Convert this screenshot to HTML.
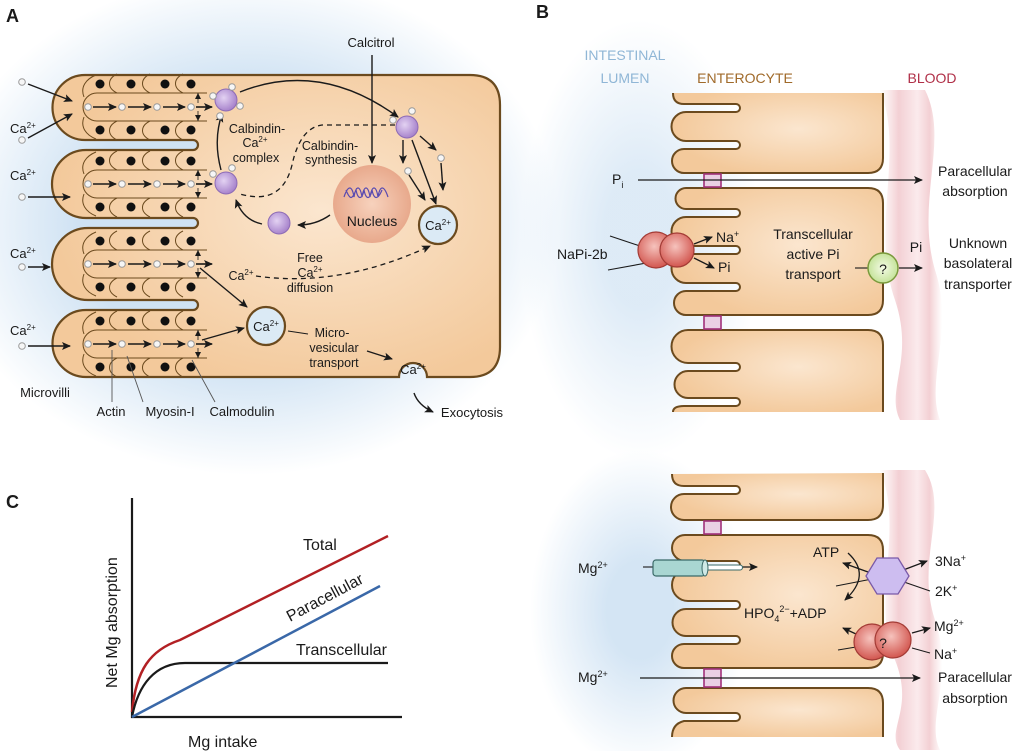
<!DOCTYPE html>
<html><head><meta charset="utf-8"><style>
html,body{margin:0;padding:0;background:#fff}
svg{display:block}
text{font-family:"Liberation Sans",Arial,sans-serif;fill:#1a1a1a}
</style></head><body>
<svg width="1024" height="751" viewBox="0 0 1024 751" xmlns="http://www.w3.org/2000/svg">
<defs>
<radialGradient id="bgA" cx="0.5" cy="0.5" r="0.5"><stop offset="0.55" stop-color="#cfe2f3"/><stop offset="1" stop-color="#cfe2f3" stop-opacity="0"/></radialGradient>
<radialGradient id="bgL" cx="0.5" cy="0.5" r="0.5"><stop offset="0.3" stop-color="#cfe2f3"/><stop offset="1" stop-color="#cfe2f3" stop-opacity="0"/></radialGradient>
<radialGradient id="cell" cx="0.6" cy="0.45" r="0.6"><stop offset="0" stop-color="#fbe6cf"/><stop offset="1" stop-color="#f3c99b"/></radialGradient>
<linearGradient id="blood" x1="0" x2="1" y1="0" y2="0"><stop offset="0" stop-color="#f6d6d8" stop-opacity="0"/><stop offset="0.3" stop-color="#f3d0d4"/><stop offset="0.6" stop-color="#fbeaec"/><stop offset="0.8" stop-color="#f3d0d4"/><stop offset="1" stop-color="#f6d6d8" stop-opacity="0"/></linearGradient>
<radialGradient id="nuc" cx="0.5" cy="0.5" r="0.5"><stop offset="0" stop-color="#f7d2bd"/><stop offset="1" stop-color="#e8a98c"/></radialGradient>
<radialGradient id="pur" cx="0.4" cy="0.4" r="0.6"><stop offset="0" stop-color="#e3d2f2"/><stop offset="1" stop-color="#a884cc"/></radialGradient>
<radialGradient id="red" cx="0.45" cy="0.4" r="0.6"><stop offset="0" stop-color="#f6c3bd"/><stop offset="1" stop-color="#d2564f"/></radialGradient>
<radialGradient id="grn" cx="0.5" cy="0.5" r="0.5"><stop offset="0" stop-color="#f4fbe6"/><stop offset="1" stop-color="#c5e39a"/></radialGradient>
<marker id="ah" markerUnits="userSpaceOnUse" markerWidth="10" markerHeight="10" refX="8" refY="5" orient="auto"><path d="M0,1 L9,5 L0,9 L2,5Z" fill="#1a1a1a"/></marker>
<marker id="as" markerUnits="userSpaceOnUse" markerWidth="7" markerHeight="7" refX="6" refY="3.5" orient="auto"><path d="M0,0.5 L6,3.5 L0,6.5 Z" fill="#1a1a1a"/></marker>
<g id="fing">
 <path d="M207,-14 H97 A14 14 0 0 0 97 14 H207" fill="none" stroke="#6b4a1e" stroke-width="1"/>
 <path d="M117,-14 C107,-19 107,-28 117,-33 M150,-14 C140,-19 140,-28 150,-33 M183,-14 C173,-19 173,-28 183,-33 M117,14 C107,19 107,28 117,33 M150,14 C140,19 140,28 150,33 M183,14 C173,19 173,28 183,33 M84,-10 C80,-20 86,-28 96,-32 M84,10 C80,20 86,28 96,32" fill="none" stroke="#6b4a1e" stroke-width="1"/>
 <g fill="#111"><circle cx="100" cy="-23" r="4.5"/><circle cx="131" cy="-23" r="4.5"/><circle cx="165" cy="-23" r="4.5"/><circle cx="191" cy="-23" r="4.5"/><circle cx="100" cy="23" r="4.5"/><circle cx="131" cy="23" r="4.5"/><circle cx="165" cy="23" r="4.5"/><circle cx="191" cy="23" r="4.5"/></g>
 <g stroke="#1a1a1a" stroke-width="1.6" marker-end="url(#ah)"><line x1="93" y1="0" x2="116" y2="0"/><line x1="128" y1="0" x2="151" y2="0"/><line x1="163" y1="0" x2="185" y2="0"/><line x1="196" y1="0" x2="212" y2="0"/></g>
 <g stroke="#1a1a1a" stroke-width="0.8" marker-end="url(#as)"><line x1="198" y1="-4" x2="198" y2="-14"/><line x1="198" y1="4" x2="198" y2="14"/></g>
 <g fill="#f6f6f6" stroke="#9a9a9a" stroke-width="1"><circle cx="88" cy="0" r="3.3"/><circle cx="122" cy="0" r="3.3"/><circle cx="157" cy="0" r="3.3"/><circle cx="191" cy="0" r="3.3"/></g>
</g>
<g id="wd"><circle r="3.3" fill="#f6f6f6" stroke="#9a9a9a"/></g>
</defs>

<!-- backgrounds -->
<ellipse cx="250" cy="225" rx="310" ry="250" fill="url(#bgA)"/>
<ellipse cx="640" cy="240" rx="120" ry="220" fill="url(#bgL)" opacity="0.7"/>
<ellipse cx="640" cy="610" rx="110" ry="160" fill="url(#bgL)" opacity="0.9"/>
<path d="M880,90 C905,150 870,230 895,300 C915,360 885,390 900,420 L940,420 C925,380 955,330 935,270 C915,200 950,140 925,90 Z" fill="url(#blood)"/>
<path d="M880,470 C905,530 870,600 895,660 C915,710 885,730 900,750 L940,750 C925,720 955,680 935,620 C915,560 950,510 925,470 Z" fill="url(#blood)"/>

<!-- PANEL A -->
<text x="6" y="22" font-size="18" font-weight="bold">A</text>
<path d="M85 75 H470 Q500 75 500 105 V347 Q500 377 470 377 H427 A14 14 0 0 0 399 377 H86 A33.5 33.5 0 0 1 86 310 H193 A5 5 0 0 0 193 300 H88 A36 36 0 0 1 88 228 H193 A5 5 0 0 0 193 218 H86 A34 34 0 0 1 86 150 H193 A5 5 0 0 0 193 140 H85 A32.5 32.5 0 0 1 85 75 Z" fill="url(#cell)" stroke="#6b4a1e" stroke-width="2.2"/>
<use href="#fing" transform="translate(0,107)"/>
<use href="#fing" transform="translate(0,184)"/>
<use href="#fing" transform="translate(0,264)"/>
<use href="#fing" transform="translate(0,344)"/>
<g font-size="13"><text x="10" y="133">Ca<tspan font-size="8" dy="-5">2+</tspan></text><text x="10" y="180">Ca<tspan font-size="8" dy="-5">2+</tspan></text><text x="10" y="258">Ca<tspan font-size="8" dy="-5">2+</tspan></text><text x="10" y="335">Ca<tspan font-size="8" dy="-5">2+</tspan></text></g>
<use href="#wd" x="22" y="82"/><use href="#wd" x="22" y="140"/><use href="#wd" x="22" y="197"/><use href="#wd" x="22" y="267"/><use href="#wd" x="22" y="346"/>
<g stroke="#1a1a1a" stroke-width="1.4" marker-end="url(#ah)" fill="none">
<line x1="28" y1="84" x2="72" y2="101"/><line x1="28" y1="138" x2="72" y2="114"/>
<line x1="28" y1="197" x2="70" y2="197"/><line x1="28" y1="267" x2="50" y2="267"/><line x1="28" y1="346" x2="70" y2="346"/>
<path d="M240 92 Q320 60 398 117"/>
<path d="M221 170 Q213 140 222 114"/>
<path d="M262 224 Q243 220 236 200"/>
<path d="M330 215 Q316 225 298 225"/>
<line x1="372" y1="55" x2="372" y2="163"/>
<line x1="403" y1="140" x2="403" y2="163"/>
<line x1="412" y1="140" x2="436" y2="204"/>
<line x1="420" y1="136" x2="436" y2="150"/>
<line x1="441" y1="163" x2="443" y2="190"/>
<line x1="409" y1="175" x2="425" y2="200"/>
<line x1="200" y1="268" x2="247" y2="307"/>
<line x1="202" y1="340" x2="244" y2="328"/>
<line x1="367" y1="351" x2="392" y2="359"/>
<path d="M414 393 Q418 405 433 412"/>
</g>
<g stroke="#1a1a1a" stroke-width="1.3" fill="none" stroke-dasharray="5,4">
<path d="M395 125 H322 Q300 128 292 165 Q282 206 240 194"/>
<path d="M256 276 Q340 288 430 246" marker-end="url(#ah)"/>
</g>
<line x1="288" y1="331" x2="308" y2="334" stroke="#1a1a1a" stroke-width="1"/>
<circle cx="226" cy="100" r="11" fill="url(#pur)" stroke="#8d6bb5"/>
<use href="#wd" x="213" y="96"/><use href="#wd" x="232" y="87"/><use href="#wd" x="240" y="106"/><use href="#wd" x="220" y="116"/>
<circle cx="407" cy="127" r="11" fill="url(#pur)" stroke="#8d6bb5"/>
<use href="#wd" x="393" y="120"/><use href="#wd" x="412" y="111"/>
<circle cx="226" cy="183" r="11" fill="url(#pur)" stroke="#8d6bb5"/>
<use href="#wd" x="213" y="174"/><use href="#wd" x="232" y="168"/>
<circle cx="279" cy="223" r="11" fill="url(#pur)" stroke="#8d6bb5"/>
<use href="#wd" x="441" y="158"/><use href="#wd" x="408" y="171"/>
<circle cx="372" cy="204" r="39" fill="url(#nuc)"/>
<path d="M344 197 C348 185 352 185 354 197 C356 185 360 185 362 197 C364 185 368 185 370 197 C372 185 376 185 378 197 C380 185 384 185 388 197 M346 190 C350 200 352 200 356 190 C358 200 362 200 364 190 C366 200 370 200 372 190 C374 200 378 200 382 190" fill="none" stroke="#5a4bb0" stroke-width="1.2"/>
<text x="372" y="226" font-size="14" text-anchor="middle">Nucleus</text>
<circle cx="438" cy="225" r="19" fill="#dbeaf5" stroke="#6b4a1e" stroke-width="2.2"/>
<text x="438" y="230" font-size="13" text-anchor="middle">Ca<tspan font-size="8" dy="-5">2+</tspan></text>
<circle cx="266" cy="326" r="19" fill="#dbeaf5" stroke="#6b4a1e" stroke-width="2.2"/>
<text x="266" y="331" font-size="13" text-anchor="middle">Ca<tspan font-size="8" dy="-5">2+</tspan></text>
<text x="413" y="374" font-size="13" text-anchor="middle">Ca<tspan font-size="8" dy="-5">2+</tspan></text>
<g font-size="12.5" text-anchor="middle">
<text x="371" y="47" font-size="13">Calcitrol</text>
<text x="257" y="133">Calbindin-</text><text x="255" y="147">Ca<tspan font-size="8" dy="-5">2+</tspan></text><text x="256" y="162">complex</text>
<text x="330" y="150">Calbindin-</text><text x="331" y="164">synthesis</text>
<text x="310" y="262">Free</text><text x="310" y="277">Ca<tspan font-size="8" dy="-5">2+</tspan></text><text x="310" y="292">diffusion</text>
<text x="241" y="280">Ca<tspan font-size="8" dy="-5">2+</tspan></text>
<text x="332" y="337">Micro-</text><text x="334" y="352">vesicular</text><text x="334" y="367">transport</text>
<text x="472" y="417" font-size="13">Exocytosis</text>
<text x="45" y="397" font-size="13">Microvilli</text>
<text x="111" y="416" font-size="13">Actin</text>
<text x="170" y="416" font-size="13">Myosin-I</text>
<text x="242" y="416" font-size="13">Calmodulin</text>
</g>
<g stroke="#555" stroke-width="0.9"><line x1="112" y1="402" x2="112" y2="350"/><line x1="143" y1="402" x2="127" y2="356"/><line x1="215" y1="402" x2="192" y2="360"/></g>

<!-- PANEL B top -->
<text x="536" y="18" font-size="18" font-weight="bold">B</text>
<g font-size="14" text-anchor="middle">
<text x="625" y="60" style="fill:#8fb6d6">INTESTINAL</text>
<text x="625" y="83" style="fill:#8fb6d6">LUMEN</text>
<text x="745" y="83" style="fill:#a06a2a">ENTEROCYTE</text>
<text x="932" y="83" style="fill:#b03048">BLOOD</text>
</g>
<g fill="url(#cell)" stroke="#6b4a1e" stroke-width="2">
<path d="M883 93 V158 Q883 173 868 173 H684 A12 12 0 0 1 684 149 H736 A4 4 0 0 0 736 141 H686 A14.5 14.5 0 0 1 686 112 H736 A4 4 0 0 0 736 104 H684 Q673 104 673 93"/>
<path d="M700 188 H868 Q883 188 883 203 V300 Q883 315 868 315 H686 A12 12 0 0 1 686 291 H736 A4 4 0 0 0 736 283 H686 A14.5 14.5 0 0 1 686 254 H736 A4 4 0 0 0 736 246 H686 A14.5 14.5 0 0 1 686 217 H736 A4 4 0 0 0 736 209 H686 A10.5 10.5 0 0 1 686 188 Z"/>
<path d="M883 412 V345 Q883 330 868 330 H688 A16.5 16.5 0 0 0 688 363 H736 A4 4 0 0 1 736 371 H688 A13.5 13.5 0 0 0 688 398 H736 A4 4 0 0 1 736 406 H684 Q673 406 673 412"/>
<path d="M883 473 V505 Q883 520 868 520 H684 A13 13 0 0 1 684 494 H736 A4 4 0 0 0 736 486 H684 Q672 486 672 474"/>
<path d="M700 535 H868 Q883 535 883 550 V653 Q883 668 868 668 H684 A12 12 0 0 1 684 644 H736 A4 4 0 0 0 736 636 H686 A13.5 13.5 0 0 1 686 609 H736 A4 4 0 0 0 736 601 H688 A16 16 0 0 1 688 569 H736 A4 4 0 0 0 736 561 H685 A13 13 0 0 1 685 535 Z"/>
<path d="M883 737 V703 Q883 688 868 688 H686 A12.5 12.5 0 0 0 686 713 H736 A4 4 0 0 1 736 721 H684 Q672 724 672 737"/>
</g>
<g fill="#ead0e4" stroke="#a0307a" stroke-width="1.6">
<rect x="704" y="174" width="17" height="13"/><rect x="704" y="316" width="17" height="13"/>
<rect x="704" y="521" width="17" height="13"/><rect x="704" y="669" width="17" height="18"/>
</g>
<g stroke="#1a1a1a" stroke-width="1.3" fill="none" marker-end="url(#ah)">
<line x1="638" y1="180" x2="922" y2="180"/>
<line x1="694" y1="244" x2="712" y2="237"/>
<line x1="694" y1="258" x2="714" y2="268"/>
<line x1="899" y1="268" x2="922" y2="268"/>
<line x1="640" y1="678" x2="920" y2="678"/>
<line x1="740" y1="567" x2="757" y2="567"/>
<line x1="898" y1="572" x2="927" y2="561"/>
<line x1="868" y1="572" x2="843" y2="563"/>
<path d="M848 553 Q872 575 845 600"/>
<line x1="856" y1="634" x2="843" y2="628"/>
<line x1="912" y1="633" x2="930" y2="628"/>
</g>
<g stroke="#1a1a1a" stroke-width="1.1">
<line x1="610" y1="236" x2="652" y2="250"/><line x1="608" y1="270" x2="652" y2="262"/>
<line x1="855" y1="268" x2="870" y2="268"/>
<line x1="643" y1="567" x2="653" y2="567"/>
<line x1="836" y1="586" x2="872" y2="579"/>
<line x1="904" y1="582" x2="930" y2="591"/>
<line x1="838" y1="650" x2="856" y2="647"/>
<line x1="912" y1="648" x2="930" y2="653"/>
</g>
<g fill="url(#red)" stroke="#a33b35" stroke-width="1.2">
<circle cx="656" cy="250" r="18"/><circle cx="677" cy="250" r="17"/>
</g>
<circle cx="883" cy="268" r="15" fill="url(#grn)" stroke="#7a9a3c" stroke-width="1.5"/>
<text x="883" y="274" font-size="14" text-anchor="middle">?</text>
<g font-size="14">
<text x="612" y="184">P<tspan font-size="9" dy="4">i</tspan></text>
<text x="975" y="176" text-anchor="middle">Paracellular</text><text x="975" y="196" text-anchor="middle">absorption</text>
<text x="557" y="259">NaPi-2b</text>
<text x="716" y="242">Na<tspan font-size="9" dy="-5">+</tspan></text>
<text x="718" y="272">Pi</text>
<text x="813" y="239" text-anchor="middle">Transcellular</text><text x="813" y="259" text-anchor="middle">active Pi</text><text x="813" y="279" text-anchor="middle">transport</text>
<text x="916" y="252" text-anchor="middle">Pi</text>
<text x="978" y="248" text-anchor="middle">Unknown</text><text x="978" y="268" text-anchor="middle">basolateral</text><text x="978" y="289" text-anchor="middle">transporter</text>
</g>

<!-- PANEL B bottom -->
<path d="M705 565 H740 A2.5 2.5 0 0 1 740 570 H705" fill="#fff" stroke="#3a6a68" stroke-width="1.1"/>
<rect x="653" y="560" width="52" height="16" rx="3" fill="#a9d6d2" stroke="#3a6a68" stroke-width="1.2"/>
<ellipse cx="705" cy="568" rx="3" ry="8" fill="#cfe9e6" stroke="#3a6a68"/>
<polygon points="877,558 898,558 909,576 898,594 877,594 866,576" fill="#cdbdf0" stroke="#7a5aa8" stroke-width="1.3"/>
<g fill="url(#red)" stroke="#a33b35" stroke-width="1.2">
<circle cx="872" cy="642" r="18"/><circle cx="893" cy="640" r="18"/>
</g>
<text x="883" y="648" font-size="14" text-anchor="middle">?</text>
<g font-size="14">
<text x="578" y="573">Mg<tspan font-size="9" dy="-5">2+</tspan></text>
<text x="578" y="682">Mg<tspan font-size="9" dy="-5">2+</tspan></text>
<text x="813" y="557">ATP</text>
<text x="744" y="618">HPO<tspan font-size="9" dy="4">4</tspan><tspan font-size="9" dy="-10">2−</tspan><tspan dy="6">+ADP</tspan></text>
<text x="935" y="566">3Na<tspan font-size="9" dy="-5">+</tspan></text>
<text x="935" y="596">2K<tspan font-size="9" dy="-5">+</tspan></text>
<text x="934" y="631">Mg<tspan font-size="9" dy="-5">2+</tspan></text>
<text x="934" y="659">Na<tspan font-size="9" dy="-5">+</tspan></text>
<text x="975" y="682" text-anchor="middle">Paracellular</text><text x="975" y="703" text-anchor="middle">absorption</text>
</g>

<!-- PANEL C -->
<text x="6" y="508" font-size="18" font-weight="bold">C</text>
<path d="M132 498 V717 H402" fill="none" stroke="#1a1a1a" stroke-width="2.2"/>
<path d="M132 712 C136 670 150 650 180 640 L388 536" fill="none" stroke="#b22024" stroke-width="2.5"/>
<path d="M132 717 C138 685 155 663 185 663 L388 663" fill="none" stroke="#1a1a1a" stroke-width="2.2"/>
<line x1="132" y1="717" x2="380" y2="586" stroke="#3a68a8" stroke-width="2.5"/>
<g font-size="16">
<text x="303" y="550">Total</text>
<text x="296" y="655">Transcellular</text>
<text x="0" y="0" transform="translate(290,622) rotate(-28)">Paracellular</text>
<text x="0" y="0" transform="translate(117,688) rotate(-90)">Net Mg absorption</text>
<text x="188" y="747">Mg intake</text>
</g>
</svg>
</body></html>
